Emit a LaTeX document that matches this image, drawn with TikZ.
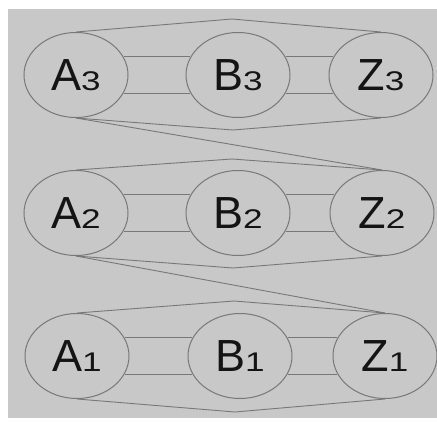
\documentclass[tikz,border=0pt]{standalone}
\usepackage{fontspec}
\usepackage{graphicx}
\setmainfont{Liberation Sans}
\usetikzlibrary{shapes.geometric}
\definecolor{panel}{RGB}{200,200,200}
\definecolor{wire}{RGB}{120,120,120}
\definecolor{ink}{RGB}{20,20,20}
% big letter followed by a wide, smaller index digit on the same baseline
\newcommand\cellname[2]{{\fontsize{45}{45}\selectfont #1}{\fontsize{27}{27}\selectfont\scalebox{1.3}[1]{#2}}}
\begin{document}
\begin{tikzpicture}[x=1pt,y=-1pt,
  cell/.style={ellipse,draw=wire,line width=1pt,minimum width=104pt,minimum height=85pt,inner sep=0pt,text=ink},
  wirel/.style={draw=wire,line width=0.9pt}]
\useasboundingbox (0,0) rectangle (437,421);
\fill[panel] (8,9) rectangle (437,418);

% row 3
\node[cell] (A3) at (76,75) {\cellname{A}{3}};
\node[cell] (B3) at (238,75) {\cellname{B}{3}};
\node[cell] (Z3) at (381,75) {\cellname{Z}{3}};
% row 2
\node[cell] (A2) at (76,213) {\cellname{A}{2}};
\node[cell] (B2) at (238,213) {\cellname{B}{2}};
\node[cell] (Z2) at (382,213) {\cellname{Z}{2}};
% row 1
\node[cell] (A1) at (77,356) {\cellname{A}{1}};
\node[cell] (B1) at (240,356) {\cellname{B}{1}};
\node[cell] (Z1) at (385,356) {\cellname{Z}{1}};

% kinks of the outer hull lines
\coordinate (t3) at (232,19);
\coordinate (b3) at (233,130);
\coordinate (t2) at (232,159);
\coordinate (b2) at (233,268);
\coordinate (t1) at (234,301);
\coordinate (b1) at (235,412);

\foreach \r in {1,2,3}{
  \draw[wirel] (A\r.21) -- (B\r.159);
  \draw[wirel] (A\r.-21) -- (B\r.-159);
  \draw[wirel] (B\r.21) -- (Z\r.159);
  \draw[wirel] (B\r.-21) -- (Z\r.-159);
  \draw[wirel] (A\r.north) -- (t\r) -- (Z\r.north);
  \draw[wirel] (A\r.south) -- (b\r) -- (Z\r.south);
}
% links between rows
\draw[wirel] (A3.south) -- (Z2.north);
\draw[wirel] (A2.south) -- (Z1.north);
\end{tikzpicture}
\end{document}
